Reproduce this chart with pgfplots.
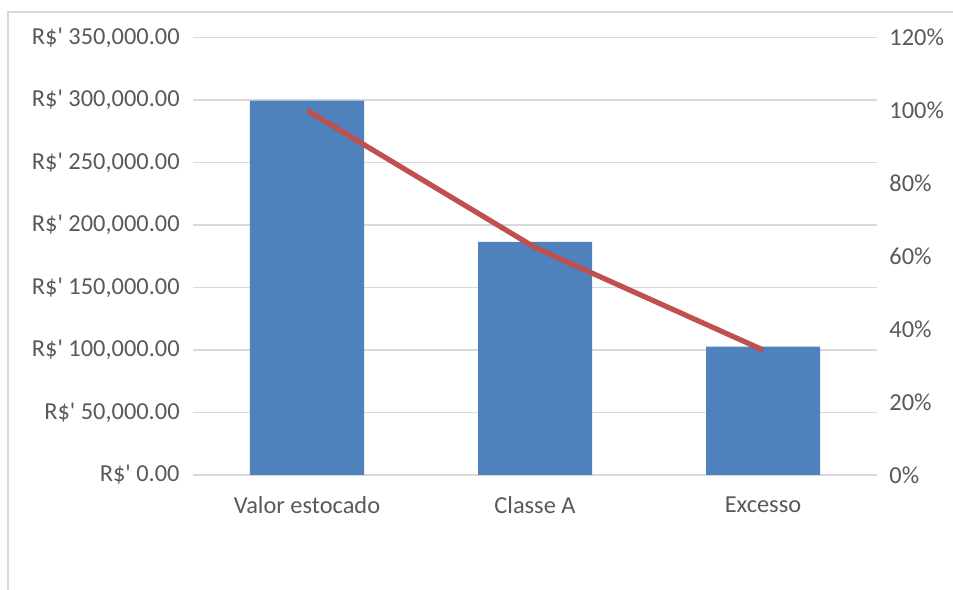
\documentclass[border=0pt]{standalone}
\usepackage{fontspec}
\setmainfont{Carlito}[Ligatures=TeXOff]
\usepackage{pgfplots}
\pgfplotsset{compat=1.18}
\definecolor{barblue}{HTML}{4F81BD}
\definecolor{linered}{HTML}{C0504D}
\definecolor{gridgray}{HTML}{D9D9D9}
\definecolor{txtgray}{HTML}{595959}
\begin{document}
\fontsize{12.2pt}{14pt}\selectfont
\begin{tikzpicture}
\useasboundingbox (0,0) rectangle (476.5pt,294.5pt);
\draw[gridgray, line width=0.6pt] (4pt,-5pt) -- (4pt,288.5pt) -- (490pt,288.5pt);
\pgfplotsset{myaxis/.style={
  at={(96.5pt,57pt)}, anchor=south west, scale only axis,
  width=342pt, height=218.75pt,
  xmin=-0.5, xmax=2.5,
  axis line style={draw=none},
  major tick length=0pt,
  tick label style={font=\fontsize{12.2pt}{14pt}\selectfont, text=txtgray},
  /pgf/number format/assume math mode=true,
}}
\begin{axis}[myaxis,
  ymin=0, ymax=350000, ytick={0,50000,...,350000},
  scaled y ticks=false,
  ymajorgrids, grid style={gridgray, line width=0.6pt},
  yticklabel={R\$'\ \pgfmathprintnumber[fixed,fixed zerofill,precision=2,1000 sep={,}]{\tick}},
  yticklabel style={anchor=east, inner sep=0pt, xshift=-6.5pt},
  xtick=data, xticklabels={Valor estocado, Classe A, Excesso},
  xticklabel style={anchor=north, inner sep=0pt, yshift=-10.5pt},
]
\addplot[ybar, bar width=0.5, fill=barblue, draw=none] coordinates {(0,299400) (1,186500) (2,102700)};
\end{axis}
\begin{axis}[myaxis,
  axis y line*=right, axis x line=none,
  ymin=0, ymax=1.2, ytick={0,0.2,...,1.2},
  yticklabel={\pgfmathparse{\tick*100}\pgfmathprintnumber[fixed,precision=0]{\pgfmathresult}\%},
  yticklabel style={anchor=west, inner sep=0pt, xshift=6pt},
]
\addplot[linered, line width=2.6pt] coordinates {(0,1.0) (1,0.624) (2,0.343)};
\end{axis}
\end{tikzpicture}
\end{document}
